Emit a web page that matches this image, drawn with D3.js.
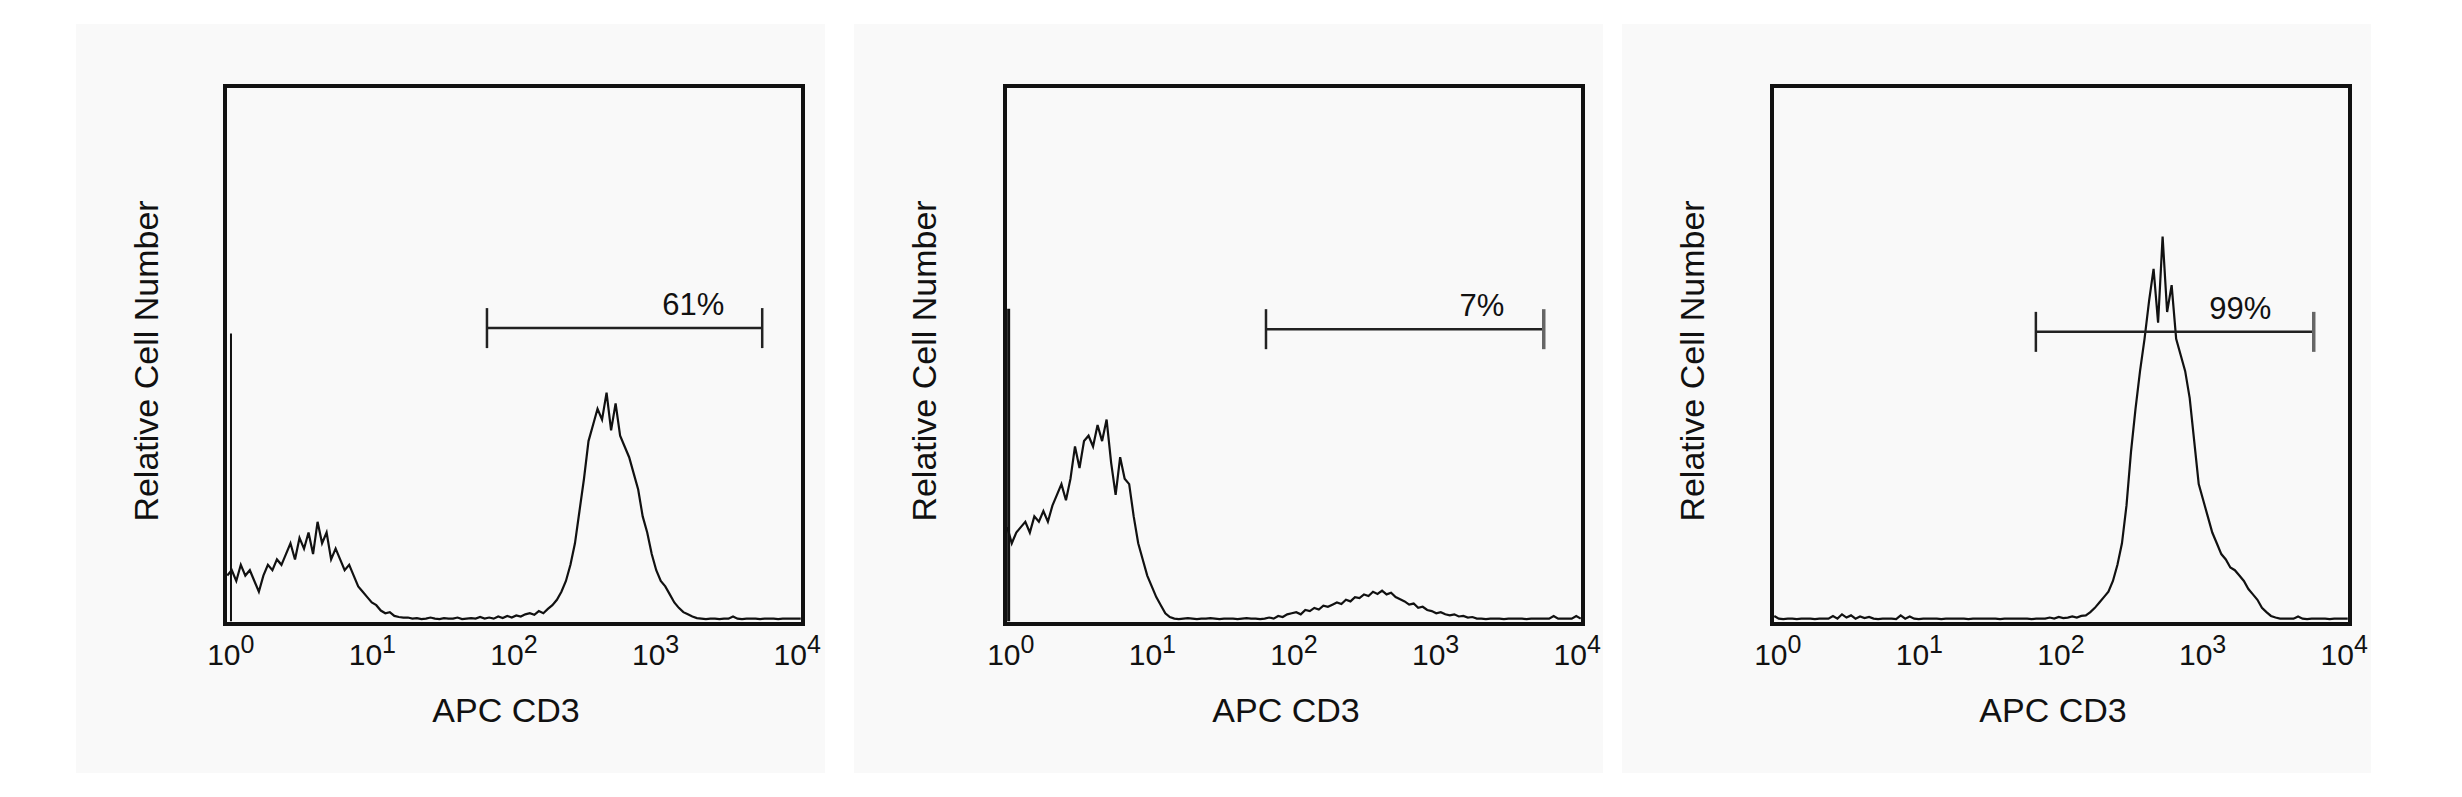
<!DOCTYPE html>
<html>
<head>
<meta charset="utf-8">
<script src="https://cdn.jsdelivr.net/npm/d3@7"></script>
<style>
  body { margin: 0; background: #fff; }
  text { font-family: Arial, "Liberation Sans", Helvetica, sans-serif; fill: #111; }
</style>
</head>
<body>
<div id="chart"></div>
<script>
// channel counts, 32 log channels per decade from 10^0 to 10^4 (percent of plot height)
const countsA = [
  9, 10, 8, 11, 9, 10, 8, 6,
  9, 11, 10, 12, 11, 13,
  15, 12, 16, 14, 17, 13, 19,
  15, 17, 12, 14,
  12, 10, 11, 9,
  7, 6, 5,
  4, 3.5, 2.5, 2, 2.2, 1.5, 1.3, 1.2,
  1.2, 1, 1.1, 0.9, 1, 1.2, 1, 0.9, 1.1, 1, 1, 1.2, 0.9, 1, 1.1, 1, 1.3, 1, 1.2, 1, 1.4, 1.1, 1.5, 1.2, 1.6, 1.4, 1.8,
  2, 1.7, 2.4, 2, 2.8, 3.5,
  4.5, 6, 8, 11,
  15, 21, 27, 34, 37, 40, 38, 43, 36, 41, 35, 33, 31, 28, 25, 20, 17, 13, 10, 8, 7, 5.5, 4, 3, 2.2, 1.8, 1.4, 1.1,
  1, 0.9, 1, 1, 0.9, 1, 1, 1.4, 1, 0.9, 1, 1, 1, 0.9, 1, 1, 1, 0.9, 1, 1, 1, 1, 1
];
const countsB = [
  18, 15, 17, 18,
  19, 17, 20, 19,
  21, 19, 22,
  24, 26, 23, 27,
  33, 29, 34, 35, 33, 37, 34, 38,
  30, 24, 31, 27, 26, 20, 15, 12, 9,
  7, 5, 3.5, 2, 1.3,
  1, 0.9, 1, 1.1, 1, 0.9, 1, 1, 1.1, 1, 0.9, 1, 1, 1, 0.9, 1, 1.1, 1, 1, 0.9, 1,
  1.2, 1, 1.5, 1.3, 1.8, 2,
  2.2, 1.8, 2.6, 2.4, 3, 2.7, 3.4, 3.2,
  3.6, 4, 3.7, 4.5, 4.2, 5, 4.8, 5.5,
  5.2, 6, 5.6, 6.2, 5.5, 5.8, 5, 4.6,
  4.2, 3.6, 3.8, 3, 3.2, 2.6, 2.4, 2,
  2.2, 1.8, 1.6, 1.8, 1.4, 1.5, 1.2, 1.3,
  1, 1, 0.9, 1, 1, 1, 0.9, 1, 1, 1, 1, 0.9, 1, 1, 1, 1, 1, 1.5, 1, 1, 1, 1, 1.5, 1
];
const countsC = [
  1.5, 1, 0.9, 1, 1, 0.9, 1, 1, 1, 0.9, 1, 1, 1,
  1.5, 1, 1.8, 1.2, 1.6, 1, 1.4, 1.1, 1.3,
  1, 0.9, 1, 1, 1, 0.9,
  1.6, 1, 1.4,
  1, 0.9, 1, 1, 1, 1, 0.9, 1, 1, 1, 1, 1, 0.9, 1, 1, 1, 1, 1, 1, 0.9, 1, 1, 1, 1, 1, 1, 0.9, 1, 1,
  1, 1.2, 1, 1.3, 1.1, 1.2, 1.4, 1.2, 1.5, 1.6,
  2.2, 3, 4, 5, 6, 8, 11, 15, 22, 32, 40, 47, 53, 60, 66, 56, 72, 58, 63, 53, 50, 47, 42, 34, 26, 23, 20, 17, 15, 13, 12, 10.5, 10, 9, 8, 6.5, 5.5, 4.5, 3, 2.2, 1.5, 1.2,
  1, 1, 1, 1, 1.4, 1, 0.9, 1, 1, 1, 1, 0.9, 1, 1, 1, 1
];
const allCounts = [countsA, countsB, countsC];

// first-channel pile-up spike (channel value, height)
const spikeAt = [1.1, 1.06, null];
const spikeTop = [54, 58.6, null];

// marker gates
const gateLow = [65, 64, 67];
const gateHigh = [5220, 5350, 5610];
const gateLevel = [55, 54.8, 54.3];
const gateLabels = ["61%", "7%", "99%"];
const gateLabelEnd = 2850;

const tickValues = [1, 10, 100, 1000, 10000];
const tickExponents = ["0", "1", "2", "3", "4"];
const xTitle = "APC CD3";
const yTitle = "Relative Cell Number";
const channelsPerDecade = 32;

// layout
const W = 2462, H = 797;
const panelX = [76, 854, 1622];
const boxX = [225, 1005, 1772];
const panelTop = 24, panelSize = 749;
const boxTop = 86, boxBottom = 624, boxW = 578;

const svg = d3.select("#chart").append("svg")
    .attr("width", W)
    .attr("height", H);

svg.append("rect").attr("width", W).attr("height", H).attr("fill", "#fff");

allCounts.forEach((counts, p) => {
    const g = svg.append("g");

    g.append("rect")
        .attr("x", panelX[p])
        .attr("y", panelTop)
        .attr("width", panelSize)
        .attr("height", panelSize)
        .attr("fill", "#f9f9f9");

    const x = d3.scaleLog()
        .domain([1, 10000])
        .range([boxX[p], boxX[p] + boxW]);

    const y = d3.scaleLinear()
        .domain([0, 100])
        .range([boxBottom, boxTop]);

    // histogram traced through channel centres
    const pts = counts.map((c, i) => [Math.pow(10, (i + 0.5) / channelsPerDecade), c]);

    const line = d3.line()
        .x(d => x(d[0]))
        .y(d => y(d[1]));

    g.append("path")
        .datum(pts)
        .attr("d", line)
        .attr("fill", "none")
        .attr("stroke", "#111")
        .attr("stroke-width", 2.2)
        .attr("stroke-linejoin", "miter");

    if (spikeAt[p] !== null) {
        g.append("line")
            .attr("x1", x(spikeAt[p]))
            .attr("x2", x(spikeAt[p]))
            .attr("y1", y(0.5))
            .attr("y2", y(spikeTop[p]))
            .attr("stroke", "#111")
            .attr("stroke-width", p === 1 ? 3 : 2);
    }

    // gate marker
    const gy = y(gateLevel[p]);
    g.append("line")
        .attr("x1", x(gateLow[p])).attr("x2", x(gateHigh[p]))
        .attr("y1", gy).attr("y2", gy)
        .attr("stroke", "#222").attr("stroke-width", 2.5);
    [gateLow[p], gateHigh[p]].forEach((v, k) => {
        g.append("line")
            .attr("x1", x(v)).attr("x2", x(v))
            .attr("y1", gy - 20).attr("y2", gy + 20)
            .attr("stroke", k === 1 && p > 0 ? "#666" : "#222")
            .attr("stroke-width", k === 1 && p > 0 ? 3.5 : 2.5);
    });
    g.append("text")
        .attr("x", x(gateLabelEnd))
        .attr("y", gy - 13)
        .attr("text-anchor", "end")
        .style("font-size", "31px")
        .text(gateLabels[p]);

    // frame
    g.append("rect")
        .attr("x", boxX[p])
        .attr("y", boxTop)
        .attr("width", boxW)
        .attr("height", boxBottom - boxTop)
        .attr("fill", "none")
        .attr("stroke", "#111")
        .attr("stroke-width", 4);

    // decade labels
    const mid = boxX[p] + boxW / 2;
    tickValues.forEach((t, i) => {
        const tx = mid + (x(t) - mid) * 0.98;
        const txt = g.append("text")
            .attr("x", tx)
            .attr("y", 665)
            .attr("text-anchor", "middle")
            .style("font-size", "30px");
        txt.append("tspan").text("10");
        txt.append("tspan")
            .attr("dy", -12)
            .style("font-size", "25px")
            .text(tickExponents[i]);
    });

    g.append("text")
        .attr("x", mid - 8)
        .attr("y", 722)
        .attr("text-anchor", "middle")
        .style("font-size", "34px")
        .text(xTitle);

    g.append("text")
        .attr("transform", `translate(${panelX[p] + 82},361) rotate(-90)`)
        .attr("text-anchor", "middle")
        .style("font-size", "34px")
        .text(yTitle);
});
</script>
</body>
</html>
